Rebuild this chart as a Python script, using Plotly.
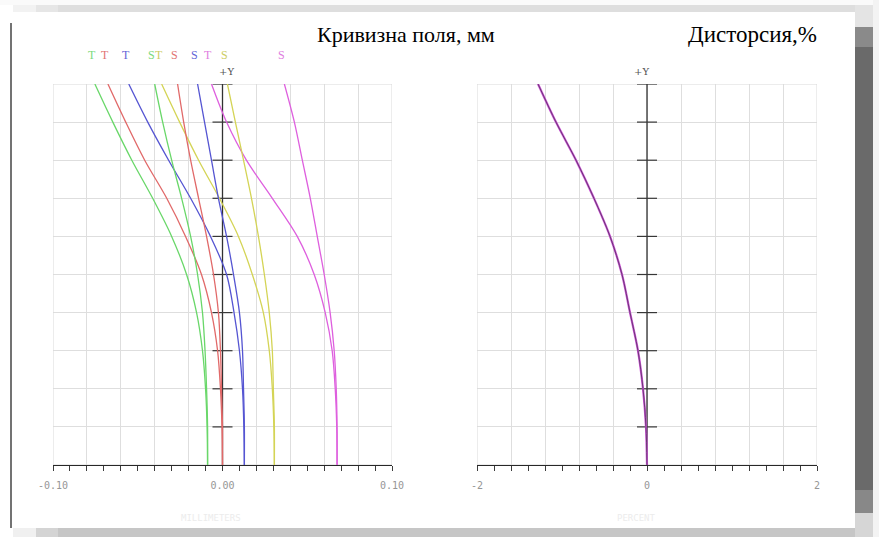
import plotly.graph_objects as go

W, H = 879, 537

# Relative field (0 = axis, 1 = full field)
field = [0.0, 0.1, 0.2, 0.3, 0.4, 0.5, 0.6, 0.7, 0.8, 0.9, 1.0]

# Field curvature, mm (tangential T / sagittal S for five wavelengths)
green_T = [-0.0088, -0.0091, -0.0100, -0.0118, -0.0153, -0.0212, -0.0300, -0.0412, -0.0535, -0.0647, -0.0753]
green_S = [-0.0088, -0.0088, -0.0094, -0.0103, -0.0118, -0.0147, -0.0188, -0.0241, -0.0300, -0.0353, -0.0400]
red_T = [0.0000, -0.0003, -0.0012, -0.0029, -0.0065, -0.0124, -0.0218, -0.0329, -0.0459, -0.0571, -0.0676]
red_S = [0.0000, 0.0000, -0.0006, -0.0012, -0.0024, -0.0053, -0.0094, -0.0141, -0.0188, -0.0229, -0.0265]
blue_T = [0.0129, 0.0126, 0.0118, 0.0100, 0.0068, 0.0024, -0.0071, -0.0188, -0.0318, -0.0441, -0.0553]
blue_S = [0.0129, 0.0129, 0.0124, 0.0118, 0.0100, 0.0065, 0.0024, -0.0024, -0.0065, -0.0106, -0.0147]
yellow_T = [0.0306, 0.0303, 0.0294, 0.0276, 0.0241, 0.0176, 0.0094, -0.0018, -0.0141, -0.0253, -0.0359]
yellow_S = [0.0306, 0.0306, 0.0300, 0.0294, 0.0276, 0.0247, 0.0212, 0.0171, 0.0124, 0.0076, 0.0029]
magenta_T = [0.0676, 0.0674, 0.0665, 0.0647, 0.0606, 0.0541, 0.0441, 0.0294, 0.0141, 0.0024, -0.0065]
magenta_S = [0.0676, 0.0676, 0.0671, 0.0659, 0.0635, 0.0600, 0.0559, 0.0518, 0.0471, 0.0424, 0.0365]

# Distortion, %
distortion = [0.0, -0.012, -0.047, -0.106, -0.200, -0.294, -0.435, -0.624, -0.835, -1.071, -1.282]

curv_range = [-0.10, 0.10]
curv_ticks = [-0.10, -0.08, -0.06, -0.04, -0.02, 0.0, 0.02, 0.04, 0.06, 0.08, 0.10]
curv_ticktext = ["-0.10", "", "", "", "", "0.00", "", "", "", "", "0.10"]
dist_range = [-2, 2]
dist_ticks = [-2.0, -1.6, -1.2, -0.8, -0.4, 0.0, 0.4, 0.8, 1.2, 1.6, 2.0]
dist_ticktext = ["-2", "", "", "", "", "0", "", "", "", "", "2"]
field_grid = [0.1, 0.2, 0.3, 0.4, 0.5, 0.6, 0.7, 0.8, 0.9, 1.0]

title_curv = "Кривизна поля, мм"
title_dist = "Дисторсия,%"

colors = {
    "green": "rgb(105,215,105)",
    "red": "rgb(225,105,105)",
    "blue": "rgb(85,85,210)",
    "yellow": "rgb(212,212,85)",
    "magenta": "rgb(222,95,222)",
}
label_colors = {
    "green": "rgb(125,218,125)",
    "red": "rgb(226,115,115)",
    "blue": "rgb(100,100,215)",
    "yellow": "rgb(205,205,100)",
    "magenta": "rgb(224,125,224)",
}

curves = [
    ("green", "T", green_T), ("red", "T", red_T), ("blue", "T", blue_T),
    ("yellow", "T", yellow_T), ("green", "S", green_S), ("red", "S", red_S),
    ("blue", "S", blue_S), ("magenta", "T", magenta_T), ("yellow", "S", yellow_S),
    ("magenta", "S", magenta_S),
]


def px_x(x):
    return x / W


def px_y(y):
    return 1 - y / H


# plot boxes in pixels
L_X0, L_X1 = 53, 392
R_X0, R_X1 = 477, 817
P_Y0, P_Y1 = 84, 465

fig = go.Figure()

for cname, kind, vals in curves:
    fig.add_trace(go.Scatter(
        x=vals, y=field, mode="lines", xaxis="x", yaxis="y",
        line=dict(color=colors[cname], width=1.3, shape="spline", smoothing=0.9),
        showlegend=False, hoverinfo="skip"))

# several wavelengths of distortion lie on top of each other
fig.add_trace(go.Scatter(
    x=distortion, y=field, mode="lines", xaxis="x2", yaxis="y2",
    line=dict(color="rgb(205,80,215)", width=2.2, shape="spline", smoothing=0.9),
    showlegend=False, hoverinfo="skip"))
fig.add_trace(go.Scatter(
    x=distortion, y=field, mode="lines", xaxis="x2", yaxis="y2",
    line=dict(color="rgb(105,60,115)", width=1.0, shape="spline", smoothing=0.9),
    showlegend=False, hoverinfo="skip"))

shapes = []
annotations = []


def note(**kw):
    kw.setdefault("showarrow", False)
    kw.setdefault("xanchor", "center")
    kw.setdefault("yanchor", "middle")
    annotations.append(kw)


def add_plot_frame(xref, yref, xr, x0px, x1px, cx_shift):
    # light frame
    shapes.append(dict(type="rect", xref=xref, yref=yref, x0=xr[0], x1=xr[1], y0=0, y1=1,
                       line=dict(color="rgb(218,218,218)", width=1), layer="between"))
    # central vertical axis with cross ticks
    shapes.append(dict(type="line", xref=xref, yref=yref, x0=0, x1=0, y0=0, y1=1,
                       line=dict(color="rgb(50,50,50)", width=1.3), layer="between"))
    half = 10 * (xr[1] - xr[0]) / (x1px - x0px)
    for yv in field_grid:
        shapes.append(dict(type="line", xref=xref, yref=yref, x0=-half, x1=half, y0=yv, y1=yv,
                           line=dict(color="rgb(55,55,55)", width=1.2), layer="between"))
    note(xref=xref, yref=yref, x=0, y=1, text="+Y", xshift=cx_shift, yshift=13,
         font=dict(family="DejaVu Serif", size=10, color="rgb(85,85,85)"))


add_plot_frame("x", "y", curv_range, L_X0, L_X1, 4)
add_plot_frame("x2", "y2", dist_range, R_X0, R_X1, -6)

# T / S labels above the top of each curve
for cname, kind, vals in curves:
    note(xref="x", yref="paper", x=vals[-1], y=px_y(55), text=kind, xshift=-3,
         font=dict(family="Liberation Serif", size=12, color=label_colors[cname]))

# titles
note(xref="paper", yref="paper", x=px_x(406), y=px_y(34), text=title_curv,
     font=dict(family="Liberation Serif", size=22, color="black"))
note(xref="paper", yref="paper", x=px_x(752), y=px_y(34), text=title_dist,
     font=dict(family="Liberation Serif", size=23, color="black"))

# faint unit captions under the axes
note(xref="paper", yref="paper", x=px_x(211), y=px_y(518), text="MILLIMETERS",
     font=dict(family="DejaVu Sans Mono", size=9, color="rgb(236,236,236)"))
note(xref="paper", yref="paper", x=px_x(636), y=px_y(518), text="PERCENT",
     font=dict(family="DejaVu Sans Mono", size=9, color="rgb(236,236,236)"))


# page edges
def prect(x0, x1, y0, y1, color):
    shapes.append(dict(type="rect", xref="paper", yref="paper",
                       x0=px_x(x0), x1=px_x(x1), y0=px_y(y1), y1=px_y(y0),
                       line=dict(width=0), fillcolor=color, layer="below"))


prect(0, 879, 0, 5, "rgb(250,250,250)")
prect(13, 36, 5, 12, "rgb(242,242,242)")
prect(36, 58, 5, 12, "rgb(230,230,230)")
prect(58, 855, 5, 12, "rgb(222,222,222)")
prect(10, 12, 23, 528, "rgb(115,115,115)")
prect(13, 36, 528, 537, "rgb(240,240,240)")
prect(36, 58, 528, 537, "rgb(212,212,212)")
prect(58, 855, 528, 537, "rgb(198,198,198)")
prect(855, 873, 5, 27, "rgb(228,228,228)")
prect(855, 873, 27, 47, "rgb(138,138,138)")
prect(855, 873, 47, 490, "rgb(106,106,106)")
prect(855, 873, 490, 513, "rgb(136,136,136)")
prect(855, 873, 513, 537, "rgb(214,214,214)")
prect(873, 879, 0, 537, "rgb(243,243,243)")

tickfont = dict(family="DejaVu Sans Mono", size=10, color="rgb(150,150,150)")


def xaxis(domain, rng, vals, text, minor_dtick, anchor):
    return dict(domain=domain, range=rng, anchor=anchor, automargin=False,
                tickmode="array", tickvals=vals, ticktext=text,
                ticks="outside", ticklen=5, tickwidth=1, tickcolor="rgb(60,60,60)",
                tickfont=tickfont, ticklabelstandoff=6,
                showgrid=True, gridcolor="rgb(222,222,222)", gridwidth=1,
                showline=True, linecolor="rgb(40,40,40)", linewidth=1.3,
                zeroline=False,
                minor=dict(dtick=minor_dtick, tick0=0, ticks="outside", ticklen=5,
                           tickcolor="rgb(60,60,60)", showgrid=False))


def yaxis(anchor):
    return dict(domain=[px_y(P_Y1), px_y(P_Y0)], range=[0, 1], anchor=anchor, automargin=False,
                tickmode="array", tickvals=field_grid, showticklabels=False, ticks="",
                showgrid=True, gridcolor="rgb(222,222,222)", gridwidth=1,
                zeroline=False, showline=False)


fig.update_layout(
    width=W, height=H, autosize=False,
    margin=dict(l=0, r=0, t=0, b=0, pad=0),
    paper_bgcolor="white", plot_bgcolor="white",
    xaxis=xaxis([px_x(L_X0), px_x(L_X1)], curv_range, curv_ticks, curv_ticktext, 0.01, "y"),
    yaxis=yaxis("x"),
    xaxis2=xaxis([px_x(R_X0), px_x(R_X1)], dist_range, dist_ticks, dist_ticktext, 0.2, "y2"),
    yaxis2=yaxis("x2"),
    shapes=shapes, annotations=annotations,
)

fig.write_html("out.html")
